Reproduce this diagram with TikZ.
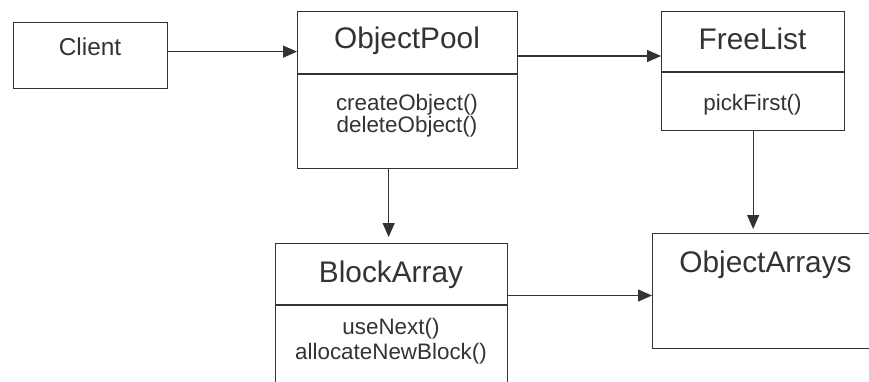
\documentclass[tikz,border=0pt]{standalone}
\usepackage{fontspec}
\setmainfont{Liberation Sans}
\usetikzlibrary{arrows.meta}
\definecolor{ink}{HTML}{333333}
\begin{document}
\begin{tikzpicture}[x=1pt,y=-1pt,>={Triangle[length=14pt,width=12pt]},
	box/.style={draw=ink,line width=1.3pt,anchor=north west,inner sep=0pt},
	rule/.style={draw=ink,line width=1.3pt},
	head/.style={text=ink,inner sep=0pt,text height=22pt,text depth=7pt,font=\fontsize{29.8}{36}\selectfont},
	meth/.style={text=ink,inner sep=0pt,align=center,font=\fontsize{22.4}{20}\selectfont},
	link/.style={->,draw=ink,line width=1.3pt}]
		\useasboundingbox (0,0) rectangle (869,381);
		\clip (0,0) rectangle (869,381);
		\node[box,minimum width=154pt,minimum height=66pt] (client) at (13,22) {};
		\node[text=ink,inner sep=0pt,font=\fontsize{24.4}{29}\selectfont] (clientname) at (90,47) {Client};
		\node[box,minimum width=220pt,minimum height=157pt] (pool) at (297,11) {};
		\draw[rule] ([yshift=-63pt]pool.north west)--([yshift=-63pt]pool.north east);
		\node[head] (poolname) at (407,41) {ObjectPool};
		\node[meth] (poolops) at (407,115.7) {createObject()\\deleteObject()};
		\node[box,minimum width=183pt,minimum height=119pt] (freelist) at (661,11) {};
		\draw[rule] ([yshift=-61pt]freelist.north west)--([yshift=-61pt]freelist.north east);
		\node[head] (freelistname) at (752.5,42) {FreeList};
		\node[meth] (freelistops) at (752.5,105) {pickFirst()};
		\node[box,minimum width=232pt,minimum height=160pt] (block) at (275,243) {};
		\draw[rule] ([yshift=-62pt]block.north west)--([yshift=-62pt]block.north east);
		\node[head] (blockname) at (391,275) {BlockArray};
		\node[meth,font=\fontsize{22.4}{25}\selectfont] (blockops) at (391,341.5) {useNext()\\allocateNewBlock()};
		\node[box,minimum width=228pt,minimum height=115pt] (arrays) at (652,233) {};
		\node[head] (arraysname) at (765.5,265) {ObjectArrays};
		\draw[link] ([yshift=4pt]client.east)--([yshift=4pt]client.east -| pool.west);
		\draw[link] ([yshift=-45pt]pool.north east)--([yshift=-45pt]pool.north east -| freelist.west);
		\draw[link,shorten >=6pt] ([xshift=-19pt]pool.south)--([xshift=-19pt]pool.south |- block.north);
		\draw[link,shorten >=4pt] (freelist.south)--(freelist.south |- arrays.north);
		\draw[link] ([yshift=-52.5pt]block.north east)--([yshift=-52.5pt]block.north east -| arrays.west);
	\end{tikzpicture}
\end{document}
